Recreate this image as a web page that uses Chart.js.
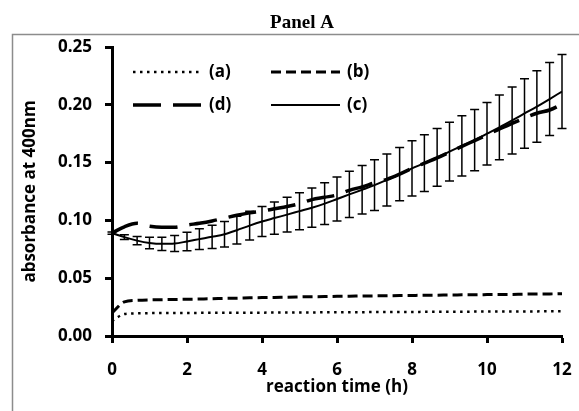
<!DOCTYPE html>
<html>
<head>
<meta charset="utf-8">
<script src="https://cdn.jsdelivr.net/npm/chart.js@4"></script>
<style>
  html, body { margin: 0; padding: 0; background: #fff; }
  #wrap { width: 579px; height: 411px; position: relative; }
</style>
</head>
<body>
<div id="wrap"><canvas id="absChart" width="579" height="411"></canvas></div>
<script>
// reaction time in hours (one reading every 20 min)
const times = [0, 0.33, 0.67, 1, 1.33, 1.67, 2, 2.33, 2.67, 3, 3.33, 3.67, 4, 4.33, 4.67, 5, 5.33, 5.67, 6,
  6.33, 6.67, 7, 7.33, 7.67, 8, 8.33, 8.67, 9, 9.33, 9.67, 10, 10.33, 10.67, 11, 11.33, 11.67, 12];

const seriesA = [0.013, 0.0190, 0.0196, 0.0198, 0.0199, 0.0200, 0.0200, 0.0200, 0.0201, 0.0201, 0.0201, 0.0202, 0.0202,
  0.0203, 0.0203, 0.0204, 0.0204, 0.0205, 0.0205, 0.0206, 0.0206, 0.0207, 0.0207, 0.0208, 0.0208, 0.0209, 0.0209,
  0.0210, 0.0210, 0.0211, 0.0211, 0.0212, 0.0212, 0.0213, 0.0213, 0.0214, 0.0214];

const seriesB = [0.020, 0.0295, 0.0308, 0.0312, 0.0314, 0.0316, 0.0318, 0.0320, 0.0322, 0.0325, 0.0327, 0.0330, 0.0332,
  0.0334, 0.0336, 0.0338, 0.0340, 0.0341, 0.0343, 0.0344, 0.0346, 0.0347, 0.0348, 0.0350, 0.0351, 0.0352, 0.0353,
  0.0355, 0.0356, 0.0357, 0.0358, 0.0359, 0.0360, 0.0362, 0.0363, 0.0364, 0.0366];

const seriesC = [0.089, 0.0855, 0.0825, 0.0805, 0.0797, 0.0800, 0.0818, 0.0838, 0.0858, 0.0880, 0.0915, 0.0955, 0.0990,
  0.1020, 0.1050, 0.1080, 0.1110, 0.1145, 0.1185, 0.1225, 0.1265, 0.1305, 0.1350, 0.1400, 0.1450, 0.1495, 0.1545,
  0.1595, 0.1645, 0.1695, 0.1750, 0.1805, 0.1865, 0.1925, 0.1985, 0.2050, 0.2115];

const errorC = [0.001, 0.002, 0.0036, 0.005, 0.0058, 0.007, 0.008, 0.009, 0.010, 0.011, 0.012, 0.0125, 0.013,
  0.014, 0.015, 0.016, 0.017, 0.018, 0.019, 0.020, 0.021, 0.022, 0.0225, 0.023, 0.024, 0.0245, 0.025,
  0.0255, 0.026, 0.0265, 0.027, 0.028, 0.029, 0.030, 0.031, 0.0315, 0.032];

const seriesD = [0.089, 0.0945, 0.0975, 0.0950, 0.0940, 0.0940, 0.0960, 0.0975, 0.0995, 0.1020, 0.1045, 0.1065, 0.1080,
  0.1100, 0.1120, 0.1145, 0.1180, 0.1200, 0.1220, 0.1260, 0.1290, 0.1325, 0.1355, 0.1400, 0.1450, 0.1495, 0.1540,
  0.1590, 0.1640, 0.1690, 0.1740, 0.1790, 0.1840, 0.1885, 0.1927, 0.1955, 0.2005];

const legendLabels = ['(a)', '(b)', '(d)', '(c)'];
const xTicks = [0, 2, 4, 6, 8, 10, 12];
const yTicks = [0, 0.05, 0.10, 0.15, 0.20, 0.25];

const FONT = '"Open Sans", Lato, sans-serif';

function pts(ys) {
  return times.map((t, i) => ({ x: t, y: ys[i] }));
}

// gray frame + "Panel A" heading
const framePlugin = {
  id: 'frame',
  beforeDraw(chart) {
    const c = chart.ctx;
    c.save();
    c.strokeStyle = '#8c8c8c';
    c.lineWidth = 1.5;
    c.strokeRect(12.5, 34.5, 620, 420);
    c.fillStyle = '#000';
    c.font = 'bold 19px "Liberation Serif", "Times New Roman", serif';
    c.textAlign = 'center';
    c.textBaseline = 'alphabetic';
    c.fillText('Panel A', 302, 28);
    c.restore();
  }
};

// error bars on series (c)
const errorBarPlugin = {
  id: 'errorBars',
  afterDatasetsDraw(chart) {
    const c = chart.ctx;
    const xs = chart.scales.x, ys = chart.scales.y;
    c.save();
    c.strokeStyle = '#000';
    c.lineWidth = 1.5;
    times.forEach((t, i) => {
      const px = xs.getPixelForValue(t);
      const top = ys.getPixelForValue(seriesC[i] + errorC[i]);
      const bot = ys.getPixelForValue(seriesC[i] - errorC[i]);
      c.beginPath();
      c.moveTo(px, top); c.lineTo(px, bot);
      c.moveTo(px - 4.5, top); c.lineTo(px + 4.5, top);
      c.moveTo(px - 4.5, bot); c.lineTo(px + 4.5, bot);
      c.stroke();
    });
    c.restore();
  }
};

// legend inside the plot, two columns
const legendPlugin = {
  id: 'inLegend',
  afterDraw(chart) {
    const c = chart.ctx;
    const slots = [[133, 72], [271, 72], [133, 105], [271, 105]];
    c.save();
    chart.data.datasets.forEach((ds, i) => {
      const [x, y] = slots[i];
      c.strokeStyle = ds.borderColor;
      c.lineWidth = ds.borderWidth;
      c.setLineDash(ds.borderDash || []);
      c.beginPath();
      c.moveTo(x, y); c.lineTo(x + 69, y);
      c.stroke();
      c.setLineDash([]);
      c.fillStyle = '#000';
      c.font = 'bold 17px ' + FONT;
      c.textAlign = 'left';
      c.textBaseline = 'middle';
      c.fillText(ds.label, x + 76, y);
    });
    c.restore();
  }
};

const ctx = document.getElementById('absChart').getContext('2d');
new Chart(ctx, {
  type: 'line',
  data: {
    datasets: [
      { label: legendLabels[0], data: pts(seriesA), borderColor: '#000', borderWidth: 2.5, borderDash: [2.5, 4.5] },
      { label: legendLabels[1], data: pts(seriesB), borderColor: '#000', borderWidth: 3, borderDash: [10, 5] },
      { label: legendLabels[2], data: pts(seriesD), borderColor: '#000', borderWidth: 3.5, borderDash: [28, 12] },
      { label: legendLabels[3], data: pts(seriesC), borderColor: '#000', borderWidth: 2 }
    ]
  },
  options: {
    responsive: false,
    animation: false,
    devicePixelRatio: 1,
    layout: { padding: { top: 47, right: 17, left: 0, bottom: 0 } },
    elements: { point: { radius: 0 }, line: { tension: 0.3, cubicInterpolationMode: 'monotone', fill: false } },
    plugins: { legend: { display: false }, tooltip: { enabled: false }, title: { display: false } },
    scales: {
      x: {
        type: 'linear', min: 0, max: 12,
        afterFit(s) { s.height = 75; s.paddingLeft = 8; s.paddingRight = 8; },
        afterBuildTicks(s) { s.ticks = xTicks.map(v => ({ value: v })); },
        ticks: { color: '#000', font: { family: FONT, size: 17, weight: 'bold' }, padding: 17, maxRotation: 0 },
        grid: { drawOnChartArea: false, drawTicks: true, tickLength: 7, tickWidth: 3, tickColor: '#000' },
        border: { display: true, color: '#000', width: 3 },
        title: { display: true, text: 'reaction time (h)', color: '#000',
          font: { family: FONT, size: 17, weight: 'bold' }, padding: { top: 0, bottom: 14 } }
      },
      y: {
        min: 0, max: 0.25,
        afterFit(s) { s.width = 112; },
        afterBuildTicks(s) { s.ticks = yTicks.map(v => ({ value: v })); },
        ticks: { color: '#000', font: { family: FONT, size: 17, weight: 'bold' }, padding: 13,
          callback: v => Number(v).toFixed(2) },
        grid: { drawOnChartArea: false, drawTicks: true, tickLength: 7, tickWidth: 3, tickColor: '#000' },
        border: { display: true, color: '#000', width: 3 },
        title: { display: true, text: 'absorbance at 400nm', color: '#000',
          font: { family: FONT, size: 17, weight: 'bold' }, padding: { top: 20, bottom: 0 } }
      }
    }
  },
  plugins: [framePlugin, errorBarPlugin, legendPlugin]
});
</script>
</body>
</html>
